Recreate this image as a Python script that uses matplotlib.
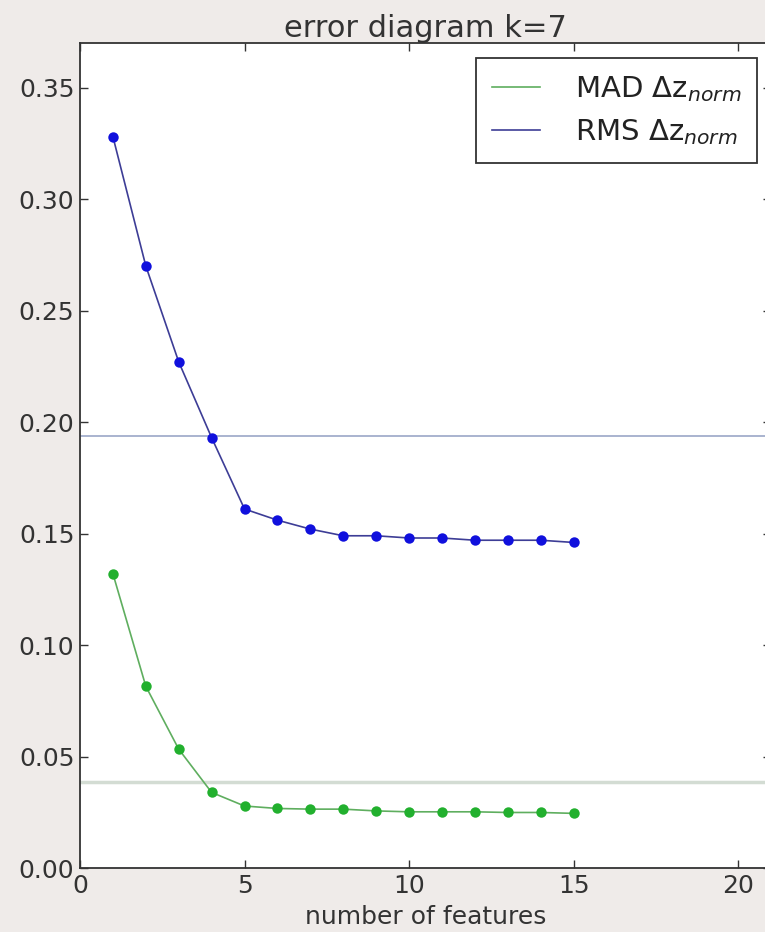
import matplotlib
matplotlib.use('Agg')
import matplotlib.pyplot as plt
import numpy as np

# number of features
n_features = np.arange(1, 16)

# RMS and MAD of normalised redshift error, k=7
rms = [0.328, 0.270, 0.227, 0.193, 0.161, 0.156, 0.152, 0.149, 0.149,
       0.148, 0.148, 0.147, 0.147, 0.147, 0.146]
mad = [0.132, 0.0815, 0.0533, 0.0339, 0.0278, 0.0267, 0.0264, 0.0264, 0.0256,
       0.0252, 0.0252, 0.0252, 0.0249, 0.0249, 0.0245]

# reference levels
rms_ref = 0.1936
mad_ref = 0.0386

x_ticks = [0, 5, 10, 15, 20]
y_ticks = [0.00, 0.05, 0.10, 0.15, 0.20, 0.25, 0.30, 0.35]

plt.rcParams['font.family'] = 'DejaVu Sans'
plt.rcParams['font.size'] = 18
plt.rcParams['mathtext.fontset'] = 'dejavusans'

fig = plt.figure(figsize=(7.65, 9.32), dpi=100, facecolor='#efebe9')
ax = fig.add_axes([80 / 765, 64 / 932, 691 / 765, 825 / 932])

ax.axhline(rms_ref, color='#a3aecb', linewidth=1.3, zorder=1)
ax.axhline(mad_ref, color='#d3dcd3', linewidth=2.5, zorder=1)

ax.plot(n_features, mad, color='#5fae5f', linewidth=1.2, zorder=2,
        label=r'MAD $\Delta\mathrm{z}_{norm}$')
ax.plot(n_features, rms, color='#3d3d96', linewidth=1.2, zorder=2,
        label=r'RMS $\Delta\mathrm{z}_{norm}$')
ax.plot(n_features, mad, 'o', color='#22b02e', markersize=7.5,
        markeredgewidth=0, zorder=3)
ax.plot(n_features, rms, 'o', color='#1010dd', markersize=7.5,
        markeredgewidth=0, zorder=3)

ax.set_xlim(0, 21)
ax.set_ylim(0, 0.37)
ax.set_xticks(x_ticks)
ax.set_yticks(y_ticks)
ax.set_yticklabels(['%.2f' % v for v in y_ticks])
ax.tick_params(direction='in', length=6, width=1, top=True, right=True,
               colors='#333333', labelcolor='#333333', pad=4, labelsize=18)
for sp in ax.spines.values():
    sp.set_linewidth(1.3)
    sp.set_color('#333333')

ax.set_title('error diagram k=7', color='#333333', fontsize=22, pad=4)
ax.set_xlabel('number of features', color='#333333', fontsize=18, labelpad=5)

leg = ax.legend(loc='upper right', bbox_to_anchor=(0.98, 0.982),
                fancybox=False, framealpha=1, edgecolor='#333333',
                fontsize=21, borderpad=0.55, handlelength=1.65,
                handletextpad=1.2, borderaxespad=0, labelspacing=0.45)
leg.get_frame().set_linewidth(1.3)
for t in leg.get_texts():
    t.set_color('#222222')

fig.savefig('out.png', dpi=100, facecolor=fig.get_facecolor())
